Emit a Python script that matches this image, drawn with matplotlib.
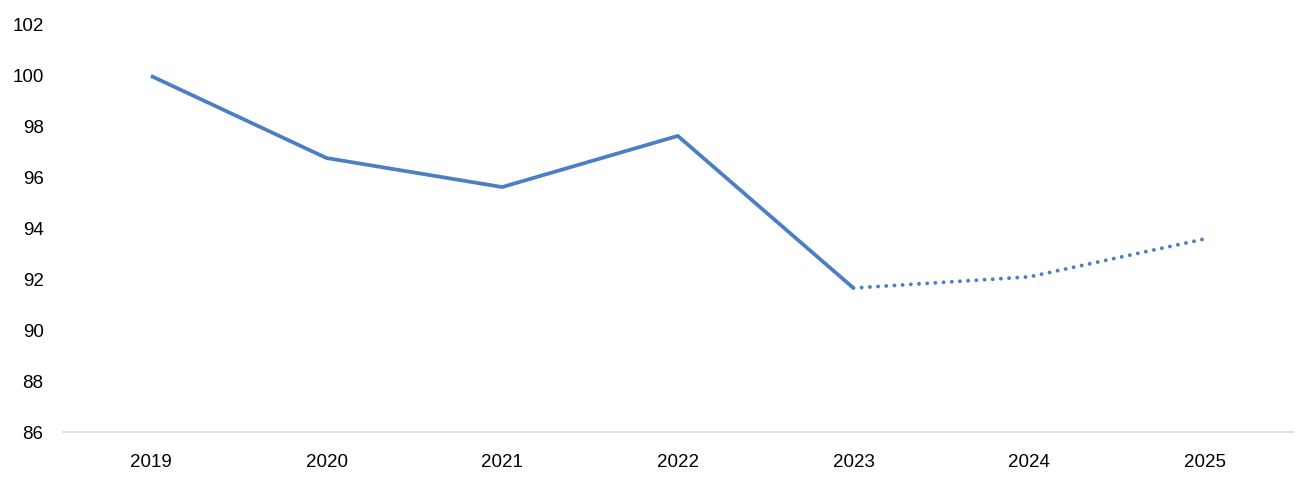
import matplotlib.pyplot as plt

years = ["2019", "2020", "2021", "2022", "2023", "2024", "2025"]
actual = [100.0, 96.77, 95.63, 97.64, 91.66]
forecast = [91.66, 92.1, 93.59]

line_color = "#4a7ec6"

plt.rcParams['font.family'] = ['Liberation Sans', 'DejaVu Sans']

fig = plt.figure(figsize=(13.03, 4.86), dpi=100)
ax = fig.add_axes([0.0484, 0.111, 0.9436, 0.8376])

x_actual = list(range(len(actual)))
x_forecast = list(range(len(actual) - 1, len(years)))

ax.plot(x_actual, actual, color=line_color, linewidth=2.7, solid_capstyle="butt")
ax.plot(x_forecast, forecast, color=line_color, linewidth=2.8,
        linestyle=(0, (0.01, 2.1)), dash_capstyle="round")

ax.set_xlim(-0.5, len(years) - 0.5)
ax.set_ylim(86, 102)
ax.set_yticks(range(86, 103, 2))
ax.set_xticks(range(len(years)))
ax.set_xticklabels(years)

for side in ["top", "right", "left"]:
    ax.spines[side].set_visible(False)
ax.spines["bottom"].set_color("#d9d9d9")
ax.spines["bottom"].set_linewidth(1.2)

ax.tick_params(axis="both", length=0, labelsize=13.5, colors="#000000")
ax.tick_params(axis="x", pad=16)
ax.tick_params(axis="y", pad=14)

fig.savefig("out.png", dpi=100)
